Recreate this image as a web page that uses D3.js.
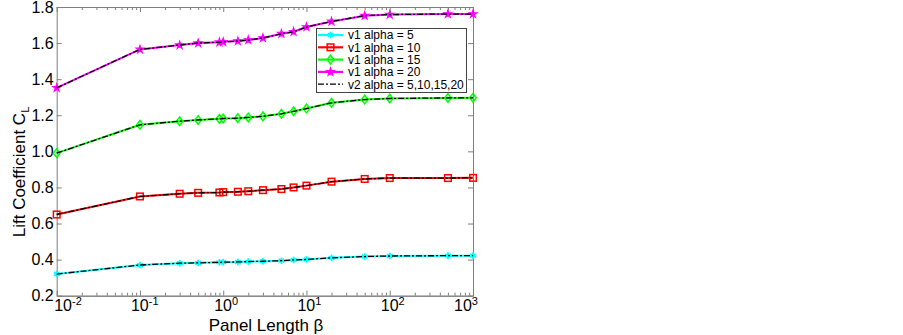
<!DOCTYPE html>
<html>
<head>
<meta charset="utf-8">
<script src="https://cdn.jsdelivr.net/npm/d3@7"></script>
<style>
  body { margin: 0; background: #fff; }
  text { font-family: "Liberation Sans", Arial, sans-serif; }
</style>
</head>
<body>
<div id="chart"></div>
<script>
// Data
const beta = [0.01, 0.1, 0.3, 0.5, 0.9, 1, 1.5, 2, 3, 5, 7, 10, 20, 50, 100, 500, 1000];
const alpha5  = [0.320, 0.370, 0.380, 0.382, 0.385, 0.386, 0.387, 0.389, 0.391, 0.394, 0.398, 0.401, 0.410, 0.417, 0.420, 0.422, 0.422];
const alpha10 = [0.650, 0.750, 0.765, 0.770, 0.772, 0.774, 0.776, 0.779, 0.785, 0.791, 0.800, 0.810, 0.832, 0.847, 0.852, 0.852, 0.853];
const alpha15 = [0.990, 1.147, 1.167, 1.174, 1.180, 1.182, 1.184, 1.188, 1.194, 1.208, 1.222, 1.237, 1.269, 1.287, 1.293, 1.296, 1.297];
const alpha20 = [1.352, 1.565, 1.589, 1.600, 1.605, 1.607, 1.611, 1.617, 1.628, 1.652, 1.663, 1.689, 1.720, 1.752, 1.758, 1.761, 1.761];
const yTicks = [0.2, 0.4, 0.6, 0.8, 1.0, 1.2, 1.4, 1.6, 1.8];
const xTicks = [0.01, 0.1, 1, 10, 100, 1000];
const xTickExp = ['-2', '-1', '0', '1', '2', '3'];

const series = [
  { name: 'v1 alpha = 5',  values: alpha5,  color: '#00ffff', marker: 'asterisk' },
  { name: 'v1 alpha = 10', values: alpha10, color: '#ff0000', marker: 'square' },
  { name: 'v1 alpha = 15', values: alpha15, color: '#00ff00', marker: 'diamond' },
  { name: 'v1 alpha = 20', values: alpha20, color: '#ff00ff', marker: 'star' }
];

const W = 903, H = 335;
const plotL = 56.7, plotR = 473, plotT = 7, plotB = 295.7;
const axisColor = '#7f7f7f';

const svg = d3.select('#chart').append('svg')
  .attr('width', W).attr('height', H);

const x = d3.scaleLog().domain([0.01, 1000]).range([plotL, plotR]);
const y = d3.scaleLinear().domain([0.2, 1.8]).range([plotB, plotT]);

// minor ticks for log axis
const minor = [];
for (let e = -2; e < 3; e++) {
  for (let m = 2; m <= 9; m++) minor.push(m * Math.pow(10, e));
}

// axes (ticks point inward, box on all sides)
function styleAxis(g) {
  g.select('.domain').attr('stroke', axisColor);
  g.selectAll('.tick line').attr('stroke', axisColor);
  g.selectAll('.tick text').remove();
}
svg.append('g').attr('transform', `translate(0,${plotB})`)
  .call(d3.axisBottom(x).tickValues(minor).tickSize(-3).tickSizeOuter(0)).call(styleAxis);
svg.append('g').attr('transform', `translate(0,${plotB})`)
  .call(d3.axisBottom(x).tickValues(xTicks).tickSize(-5).tickSizeOuter(0)).call(styleAxis);
svg.append('g').attr('transform', `translate(0,${plotT})`)
  .call(d3.axisTop(x).tickValues(minor).tickSize(-3).tickSizeOuter(0)).call(styleAxis);
svg.append('g').attr('transform', `translate(0,${plotT})`)
  .call(d3.axisTop(x).tickValues(xTicks).tickSize(-5).tickSizeOuter(0)).call(styleAxis);
svg.append('g').attr('transform', `translate(${plotL},0)`)
  .call(d3.axisLeft(y).tickValues(yTicks).tickSize(-5).tickSizeOuter(0)).call(styleAxis);
svg.append('g').attr('transform', `translate(${plotR},0)`)
  .call(d3.axisRight(y).tickValues(yTicks).tickSize(-5).tickSizeOuter(0)).call(styleAxis);

// tick labels
svg.append('g').selectAll('text').data(yTicks).join('text')
  .attr('x', plotL - 3).attr('y', d => y(d) + 5.5)
  .attr('text-anchor', 'end').attr('font-size', 16).attr('fill', '#000')
  .text(d => d.toFixed(1));

// "10" centred on the tick, end labels pulled inside like MATLAB does
const xl = svg.append('g').selectAll('text').data(xTicks).join('text')
  .attr('x', (d, i) => {
    let px = x(d) - 9;
    if (i === 0) px = plotL - 2.5;
    if (i === xTicks.length - 1) px = plotR - 19;
    return px;
  })
  .attr('y', 311).attr('font-size', 16).attr('fill', '#000');
xl.append('tspan').text('10');
xl.append('tspan').attr('dy', -6).attr('font-size', 11).text((d, i) => xTickExp[i]);

// axis titles
svg.append('text').attr('x', 266).attr('y', 331)
  .attr('text-anchor', 'middle').attr('font-size', 17).text('Panel Length β');
const yl = svg.append('text')
  .attr('transform', 'translate(25,172) rotate(-90)')
  .attr('text-anchor', 'middle').attr('font-size', 17);
yl.append('tspan').text('Lift Coefficient C');
yl.append('tspan').attr('dy', 4).attr('font-size', 11).text('L');

// markers
function drawMarker(g, type, color, cx, cy) {
  if (type === 'square') {
    g.append('rect').attr('x', cx - 3.3).attr('y', cy - 3.3).attr('width', 6.6).attr('height', 6.6)
      .attr('fill', 'none').attr('stroke', color).attr('stroke-width', 1.5);
  } else if (type === 'diamond') {
    g.append('path').attr('d', `M${cx},${cy - 4.3}L${cx + 3.3},${cy}L${cx},${cy + 4.3}L${cx - 3.3},${cy}Z`)
      .attr('fill', 'none').attr('stroke', color).attr('stroke-width', 1.5);
  } else if (type === 'star') {
    g.append('path').attr('d', d3.symbol().type(d3.symbolStar).size(18)())
      .attr('transform', `translate(${cx},${cy})`)
      .attr('fill', color).attr('stroke', color).attr('stroke-width', 1.2);
  } else {
    const r = 3.3;
    for (let k = 0; k < 3; k++) {
      const a = Math.PI / 2 + k * Math.PI / 3;
      g.append('line')
        .attr('x1', cx - r * Math.cos(a)).attr('y1', cy - r * Math.sin(a))
        .attr('x2', cx + r * Math.cos(a)).attr('y2', cy + r * Math.sin(a))
        .attr('stroke', color).attr('stroke-width', 1.8);
    }
    g.append('circle').attr('cx', cx).attr('cy', cy).attr('r', 1.8).attr('fill', color);
  }
}

const line = d3.line().x(d => x(d[0])).y(d => y(d[1]));

const plot = svg.append('g');
series.forEach(s => {
  const pts = beta.map((b, i) => [b, s.values[i]]);
  plot.append('path').datum(pts).attr('d', line)
    .attr('fill', 'none').attr('stroke', s.color).attr('stroke-width', 2);
  const mg = plot.append('g');
  pts.forEach(p => drawMarker(mg, s.marker, s.color, x(p[0]), y(p[1])));
});
// v2 results drawn on top as black dash-dot
series.forEach(s => {
  const pts = beta.map((b, i) => [b, s.values[i]]);
  plot.append('path').datum(pts).attr('d', line)
    .attr('fill', 'none').attr('stroke', '#000').attr('stroke-width', 1.3)
    .attr('stroke-dasharray', '6,2,2,2');
});

// legend
const lg = svg.append('g');
lg.append('rect').attr('x', 316.5).attr('y', 28.5).attr('width', 150).attr('height', 64)
  .attr('fill', '#fff').attr('stroke', '#444').attr('stroke-width', 1);
const legendItems = series.map(s => ({ name: s.name, color: s.color, marker: s.marker, dash: null }))
  .concat([{ name: 'v2 alpha = 5,10,15,20', color: '#000', marker: null, dash: '6,2,2,2' }]);
legendItems.forEach((d, i) => {
  const ly = 35 + i * 12.3;
  lg.append('line').attr('x1', 318).attr('x2', 343).attr('y1', ly).attr('y2', ly)
    .attr('stroke', d.color).attr('stroke-width', d.dash ? 1.3 : 2.2)
    .attr('stroke-dasharray', d.dash);
  if (d.marker) drawMarker(lg, d.marker, d.color, 330.5, ly);
  lg.append('text').attr('x', 348).attr('y', ly + 4.3).attr('font-size', 12).text(d.name);
});
</script>
</body>
</html>
